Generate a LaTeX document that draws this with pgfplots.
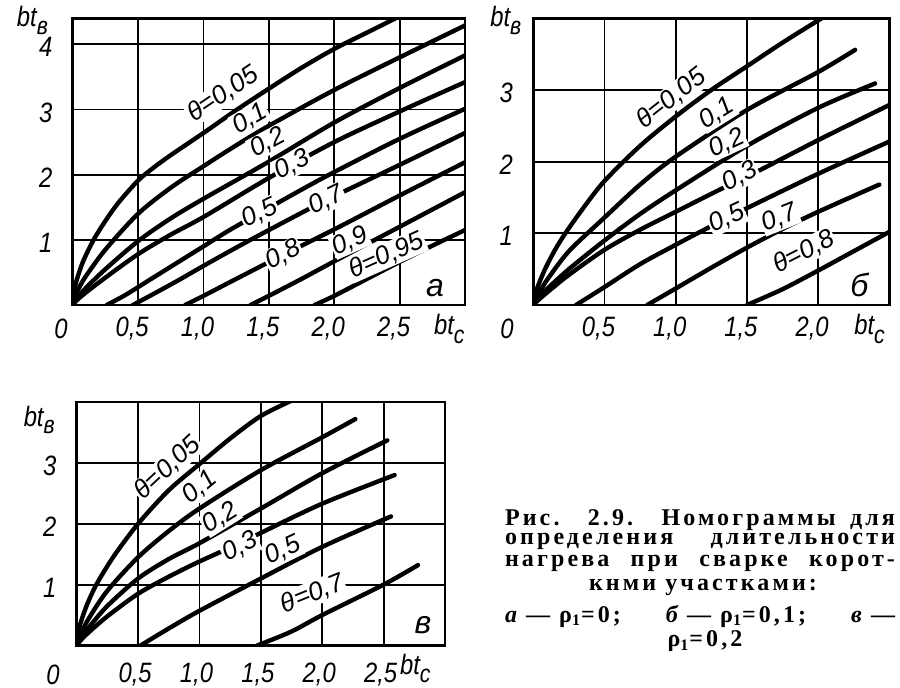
\documentclass[border=0pt]{standalone}
\usepackage{fontspec}
\usepackage{pgfplots}
\pgfplotsset{compat=1.18}
\setmainfont{Liberation Serif}
\newfontfamily\dr{Liberation Sans}[FakeStretch=0.85]
\newfontfamily\drl{Liberation Sans}
\newfontfamily\capf{Liberation Serif}[LetterSpace=13]

\newcommand{\tk}{\dr\itshape\fontsize{14}{14}\selectfont}
\newcommand{\lb}{\drl\itshape\fontsize{13}{13}\selectfont}
\newcommand{\pl}{\drl\itshape\fontsize{16}{16}\selectfont}
\newcommand{\btv}{bt\raisebox{-0.5ex}{\fontsize{12.5}{12.5}\selectfont в}}
\newcommand{\btc}{bt\raisebox{-0.55ex}{\fontsize{12.5}{12.5}\selectfont с}}
\newcommand{\capfont}{\capf\bfseries\fontsize{12}{12}\selectfont}
\newcommand{\rh}{ρ\textsubscript{1}}

\tikzset{lab/.style={font=\lb, fill=white, inner sep=0.6pt}}
\pgfplotsset{
  nomo/.style={
    scale only axis,
    axis line style={line width=1.3pt},
    grid=major,
    grid style={black, line width=0.9pt},
    major tick length=0pt,
    xmin=0, ymin=0,
    tick label style={font=\tk},
    xticklabel style={anchor=center, yshift=-12pt, xshift=-3pt},
    yticklabel style={anchor=center, xshift=-13.5pt, yshift=-1.5pt},
    clip=true,
    every axis plot post/.append style={black, solid, line width=2.2pt, line cap=round, smooth, mark=none},
  },
}

\begin{document}
\begin{tikzpicture}[x=1pt,y=1pt]
\useasboundingbox (0,0) rectangle (450,344);

% ---------------- panel a ----------------
\begin{axis}[nomo, name=A, at={(36.35pt,191.5pt)}, anchor=south west,
  width=196.15pt, height=143.35pt, xmax=3, ymax=4.4,
  xtick={0.5,1,1.5,2,2.5}, xticklabels={{0,5},{1,0},{1,5},{2,0},{2,5}},
  ytick={1,2,3,4}, yticklabels={1,2,3,4}]
\addplot coordinates {(0,0) (0.01,0.19) (0.03,0.38) (0.08,0.67) (0.16,1.0) (0.25,1.29) (0.35,1.57) (0.5,1.91) (0.62,2.11) (0.75,2.3) (1.0,2.64) (1.25,2.99) (1.5,3.32) (1.75,3.64) (2.0,3.93) (2.25,4.18) (2.5,4.43)};
\addplot coordinates {(0,0) (0.02,0.15) (0.05,0.27) (0.1,0.44) (0.25,0.85) (0.5,1.4) (0.75,1.8) (1.0,2.13) (1.25,2.45) (1.5,2.75) (2.0,3.3) (2.5,3.8) (3.0,4.29)};
\addplot coordinates {(0,0) (0.03,0.1) (0.1,0.26) (0.25,0.55) (0.5,0.98) (0.75,1.33) (1.0,1.63) (1.5,2.2) (2.0,2.8) (2.5,3.33) (3.0,3.83)};
\addplot coordinates {(0,0) (0.03,0.07) (0.1,0.19) (0.25,0.42) (0.5,0.78) (0.75,1.08) (1.0,1.35) (1.5,1.95) (2.0,2.5) (2.5,2.97) (3.0,3.42)};
\addplot coordinates {(0.26,0) (0.4,0.15) (0.6,0.4) (0.8,0.65) (1.0,0.9) (1.2,1.15) (1.43,1.41) (1.75,1.77) (2.0,2.04) (2.5,2.55) (3.0,3.01)};
\addplot coordinates {(0.46,0) (0.6,0.15) (0.8,0.37) (1.0,0.6) (1.25,0.88) (1.5,1.15) (1.94,1.61) (2.5,2.15) (3.0,2.64)};
\addplot coordinates {(0.86,0) (1.0,0.14) (1.25,0.4) (1.61,0.77) (2.0,1.16) (2.5,1.68) (3.0,2.19)};
\addplot coordinates {(1.36,0) (1.5,0.14) (1.75,0.4) (2.0,0.67) (2.5,1.2) (3.0,1.73)};
\addplot coordinates {(1.85,0) (2.0,0.14) (2.25,0.4) (2.5,0.66) (2.75,0.91) (3.0,1.15)};
\node[lab, rotate=34] at (axis cs:1.15,3.24) {θ=0,05};
\node[lab, rotate=30] at (axis cs:1.356,2.86) {0,1};
\node[lab, rotate=28] at (axis cs:1.49,2.49) {0,2};
\node[lab, rotate=26] at (axis cs:1.68,2.15) {0,3};
\node[lab, rotate=26] at (axis cs:1.43,1.41) {0,5};
\node[lab, rotate=26] at (axis cs:1.94,1.61) {0,7};
\node[lab, rotate=26] at (axis cs:1.61,0.77) {0,8};
\node[lab, rotate=24] at (axis cs:2.12,0.98) {0,9};
\node[lab, rotate=24] at (axis cs:2.40,0.76) {θ=0,95};
\node[font=\pl] at (axis cs:2.77,0.26) {а};
\end{axis}
\node[font=\tk] at ([xshift=-5.85pt,yshift=-12pt]A.south west) {0};
\node[font=\tk, anchor=west] at ([xshift=-19pt,yshift=-12pt]A.south east) {\btc};
\node[font=\tk, anchor=west] at ([xshift=-31.4pt,yshift=-1pt]A.north west) {\btv};

% ---------------- panel b ----------------
\begin{axis}[nomo, name=B, at={(266.65pt,191.5pt)}, anchor=south west,
  width=178pt, height=143.35pt, xmax=2.5, ymax=4,
  xtick={0.5,1,1.5,2}, xticklabels={{0,5},{1,0},{1,5},{2,0}},
  ytick={1,2,3}, yticklabels={1,2,3}]
\addplot coordinates {(0,0) (0.01,0.12) (0.03,0.25) (0.08,0.49) (0.15,0.76) (0.225,1.0) (0.35,1.35) (0.5,1.73) (0.75,2.22) (1.0,2.63) (1.25,3.0) (1.5,3.33) (1.75,3.66) (2.0,3.97) (2.05,4.03)};
\addplot coordinates {(0,0) (0.02,0.1) (0.05,0.2) (0.1,0.36) (0.25,0.75) (0.5,1.22) (0.75,1.68) (1.0,2.07) (1.5,2.72) (2.0,3.25) (2.26,3.56)};
\addplot coordinates {(0,0) (0.03,0.08) (0.1,0.23) (0.25,0.5) (0.5,0.9) (0.75,1.27) (1.0,1.6) (1.5,2.22) (2.0,2.75) (2.40,3.09)};
\addplot coordinates {(0,0) (0.03,0.06) (0.1,0.18) (0.25,0.42) (0.5,0.77) (0.75,1.05) (1.0,1.3) (1.3,1.6) (1.59,1.88) (2.0,2.3) (2.5,2.79)};
\addplot coordinates {(0.30,0) (0.5,0.25) (0.75,0.57) (1.0,0.84) (1.22,1.07) (1.52,1.37) (2.0,1.83) (2.5,2.28)};
\addplot coordinates {(0.80,0) (1.0,0.23) (1.25,0.52) (1.5,0.8) (1.75,1.06) (2.0,1.3) (2.43,1.68)};
\addplot coordinates {(1.5,0) (1.75,0.22) (2.0,0.48) (2.25,0.75) (2.5,1.02)};
\node[lab, rotate=38] at (axis cs:0.97,2.88) {θ=0,05};
\node[lab, rotate=32] at (axis cs:1.29,2.67) {0,1};
\node[lab, rotate=25] at (axis cs:1.36,2.26) {0,2};
\node[lab, rotate=28] at (axis cs:1.45,1.79) {0,3};
\node[lab, rotate=25] at (axis cs:1.36,1.21) {0,5};
\node[lab, rotate=22] at (axis cs:1.73,1.21) {0,7};
\node[lab, rotate=27] at (axis cs:1.90,0.74) {θ=0,8};
\node[font=\pl] at (axis cs:2.29,0.28) {б};
\end{axis}
\node[font=\tk] at ([xshift=-13.2pt,yshift=-12pt]B.south west) {0};
\node[font=\tk, anchor=west] at ([xshift=-21pt,yshift=-12pt]B.south east) {\btc};
\node[font=\tk, anchor=west] at ([xshift=-25pt,yshift=-1pt]B.north west) {\btv};

% ---------------- panel v ----------------
\begin{axis}[nomo, name=C, at={(38.35pt,21.25pt)}, anchor=south west,
  width=184.15pt, height=121.75pt, xmax=3, ymax=4,
  xtick={0.5,1,1.5,2,2.5}, xticklabels={{0,5},{1,0},{1,5},{2,0},{2,5}},
  xticklabel style={yshift=-2.5pt, xshift=1.5pt},
  ytick={1,2,3}, yticklabels={1,2,3}]
\addplot coordinates {(0,0) (0.01,0.19) (0.03,0.36) (0.08,0.65) (0.16,1.0) (0.3,1.46) (0.5,2.0) (0.75,2.55) (1.0,2.98) (1.25,3.4) (1.5,3.77) (1.78,4.05)};
\addplot coordinates {(0,0) (0.02,0.14) (0.05,0.26) (0.1,0.45) (0.25,0.9) (0.5,1.45) (0.75,1.88) (1.0,2.25) (1.5,2.88) (2.0,3.42) (2.27,3.72)};
\addplot coordinates {(0,0) (0.03,0.11) (0.1,0.3) (0.25,0.65) (0.5,1.1) (0.75,1.42) (1.0,1.68) (1.5,2.25) (2.0,2.83) (2.53,3.37)};
\addplot coordinates {(0,0) (0.03,0.08) (0.1,0.22) (0.25,0.48) (0.5,0.85) (0.75,1.13) (1.0,1.38) (1.33,1.68) (1.5,1.85) (2.0,2.33) (2.59,2.8)};
\addplot coordinates {(0.52,0) (0.75,0.28) (1.0,0.57) (1.5,1.1) (2.0,1.62) (2.56,2.12)};
\addplot coordinates {(1.47,0) (1.75,0.23) (2.0,0.5) (2.5,1.0) (2.78,1.32)};
\node[lab, rotate=43] at (axis cs:0.74,2.92) {θ=0,05};
\node[lab, rotate=40] at (axis cs:1.0,2.6) {0,1};
\node[lab, rotate=32] at (axis cs:1.17,2.1) {0,2};
\node[lab, rotate=27] at (axis cs:1.33,1.62) {0,3};
\node[lab, rotate=25] at (axis cs:1.68,1.56) {0,5};
\node[lab, rotate=22] at (axis cs:1.92,0.85) {θ=0,7};
\node[font=\pl] at (axis cs:2.82,0.34) {в};
\end{axis}
\node[font=\tk] at ([xshift=-11.9pt,yshift=-14.5pt]C.south west) {0};
\node[font=\tk, anchor=west] at ([xshift=-26pt,yshift=-11.5pt]C.south east) {\btc};
\node[font=\tk, anchor=west] at ([xshift=-30pt,yshift=-9pt]C.north west) {\btv};

% ---------------- caption ----------------
\node[inner sep=0] at (350,84) {\capfont\makebox[195pt][s]{Рис. 2.9. Номограммы для}};
\node[inner sep=0] at (350,73.5) {\capfont\makebox[195pt][s]{определения длительности}};
\node[inner sep=0] at (350,62.5) {\capfont\makebox[195pt][s]{нагрева при сварке корот-}};
\node[inner sep=0] at (351.5,50.5) {\capfont кнми участками:};
\node[inner sep=0] at (350,36) {\capfont\makebox[195pt][l]{{\itshape а} — \rh=0;\hfill{\itshape б} — \rh=0,1;\hfill{\itshape в} —}};
\node[inner sep=0] at (352.5,23.5) {\capfont \rh=0,2};
\end{tikzpicture}
\end{document}
